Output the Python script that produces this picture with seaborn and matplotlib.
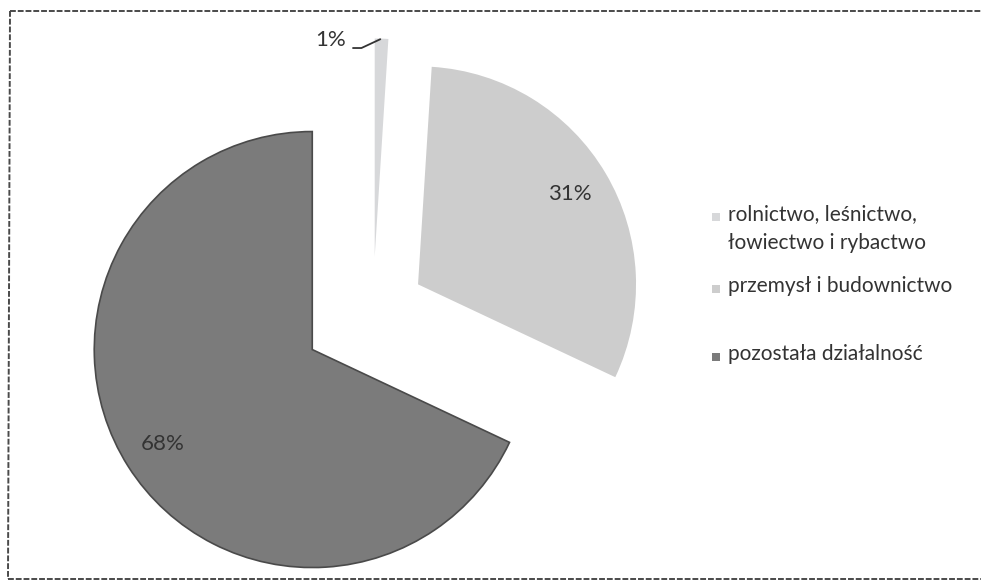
import numpy as np
import matplotlib
matplotlib.use("Agg")
import matplotlib.pyplot as plt
import seaborn as sns
from matplotlib.lines import Line2D
from matplotlib.patches import Rectangle

# data
sectors = ["rolnictwo, leśnictwo,\nłowiectwo i rybactwo",
           "przemysł i budownictwo",
           "pozostała działalność"]
shares = [1, 31, 68]
pct_labels = ["1%", "31%", "68%"]

slice_colors = ["#d7d8da", "#cdcdcd", "#7b7b7b"]
explode = [0.25, 0.24, 0.33]

W, H = 981, 585
cx, cy, R = 373, 311, 218   # pie centre / radius in pixels

sns.set_theme(style="white")
plt.rcParams['font.family'] = ['Lato', 'DejaVu Sans']
text_col = "#333333"

fig = plt.figure(figsize=(W / 100, H / 100), dpi=100)
ax = fig.add_axes([0, 0, 1, 1])

wedges, _ = ax.pie(shares, explode=explode, startangle=90, counterclock=False,
                   colors=slice_colors, radius=1,
                   wedgeprops=dict(linewidth=0))
wedges[2].set_edgecolor("#4a4a4a")
wedges[2].set_linewidth(1.2)

# percentage labels, placed along each wedge's mid angle
for w, lab in zip(wedges, pct_labels):
    mid = np.deg2rad((w.theta1 + w.theta2) / 2)
    x0, y0 = w.center
    if lab == "1%":
        tip = (x0 + np.cos(mid), y0 + np.sin(mid))
        ax.annotate(lab, xy=tip, xytext=(-37, -1), textcoords="offset points",
                    ha="center", va="center", fontsize=16, color=text_col,
                    arrowprops=dict(arrowstyle="-", color="#333333", lw=1.3,
                                    relpos=(1.0, 0.1), shrinkA=3, shrinkB=1,
                                    connectionstyle="angle,angleA=0,angleB=25,rad=0"))
    else:
        ax.text(x0 + 0.81 * np.cos(mid), y0 + 0.81 * np.sin(mid), lab,
                ha="center", va="center", fontsize=16, color=text_col)

ax.set_xlim(-cx / R, (W - cx) / R)
ax.set_ylim((cy - H) / R, cy / R)
ax.set_aspect("auto")
ax.axis("off")

# legend drawn by hand so the marker sits on the first text line
leg_y = [217, 289, 357]
for lab, col, y in zip(sectors, slice_colors, leg_y):
    fig.add_artist(Rectangle((712 / W, 1 - (y + 4) / H), 8 / W, 8 / H,
                             transform=fig.transFigure, facecolor=col,
                             edgecolor="none"))
    fig.text(728 / W, 1 - (y - 13) / H, lab, ha="left", va="top",
             fontsize=15, color=text_col, linespacing=1.55)

# scanned frame around the chart
frame = dict(color="#4a4a4a", lw=1.4, linestyle=(0, (3, 1)))
fig.add_artist(Line2D([10 / W, 1], [1 - 11 / H, 1 - 11 / H], **frame))
fig.add_artist(Line2D([8 / W, 1], [1 - 579 / H, 1 - 579 / H], **frame))
fig.add_artist(Line2D([10 / W, 8 / W], [1 - 11 / H, 1 - 579 / H], **frame))

fig.savefig("out.png", dpi=100)
